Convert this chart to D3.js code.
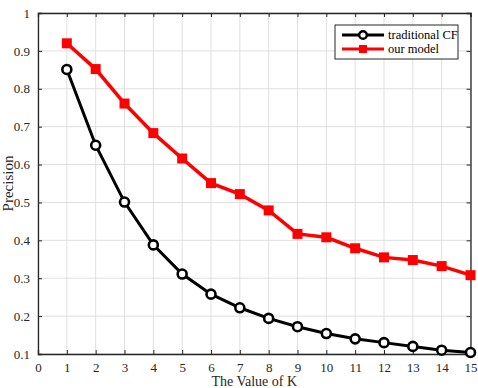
<!DOCTYPE html>
<html><head><meta charset="utf-8">
<script src="https://cdn.jsdelivr.net/npm/d3@7/dist/d3.min.js"></script>
<style>body{margin:0;background:#fff}svg{display:block}text{font-family:"Liberation Serif","Times New Roman",serif}</style>
</head><body><svg id="c" width="478" height="388"></svg>
<script>
const kValues = [1,2,3,4,5,6,7,8,9,10,11,12,13,14,15];
const traditionalCF = [0.851,0.651,0.501,0.388,0.311,0.258,0.222,0.194,0.172,0.154,0.140,0.130,0.120,0.110,0.104];
const ourModel = [0.920,0.852,0.761,0.683,0.616,0.551,0.522,0.479,0.417,0.408,0.379,0.355,0.348,0.332,0.308];
const xTicks = [0,1,2,3,4,5,6,7,8,9,10,11,12,13,14,15];
const yTicks = [0.1,0.2,0.3,0.4,0.5,0.6,0.7,0.8,0.9,1];
const seriesNames = ["traditional CF","our model"];

const svg = d3.select("#c");
const L=38,R=470.5,T=13,B=354;
const x = d3.scaleLinear().domain([0,15]).range([L,R]);
const y = d3.scaleLinear().domain([0.1,1]).range([B,T]);
const axisCol="#262626";
const serif="'Liberation Serif', 'Times New Roman', serif";

// grid
const g = svg.append("g");
g.selectAll(".gx").data(xTicks).join("line").attr("x1",d=>x(d)).attr("x2",d=>x(d)).attr("y1",T).attr("y2",B).attr("stroke","#dfdfdf").attr("stroke-width",1);
g.selectAll(".gy").data(yTicks).join("line").attr("x1",L).attr("x2",R).attr("y1",d=>y(d)).attr("y2",d=>y(d)).attr("stroke","#dfdfdf").attr("stroke-width",1);

// axes
const ax = d3.axisBottom(x).tickValues(xTicks).tickSize(-4).tickPadding(9).tickFormat(d3.format("d"));
const ay = d3.axisLeft(y).tickValues(yTicks).tickSize(-4).tickPadding(8).tickFormat(d=>d===1?"1":d3.format(".1f")(d));
const axT = d3.axisTop(x).tickValues(xTicks).tickSize(-4).tickFormat("");
const ayR = d3.axisRight(y).tickValues(yTicks).tickSize(-4).tickFormat("");
function style(sel){sel.attr("font-family",serif).attr("font-size",13);sel.select(".domain").attr("stroke",axisCol).attr("stroke-width",1.3);sel.selectAll(".tick line").attr("stroke",axisCol);sel.selectAll("text").attr("fill",axisCol).style("font-family",serif).style("font-size","13px");}
svg.append("g").attr("transform",`translate(0,${B})`).call(ax).call(style);
svg.append("g").attr("transform",`translate(${L},0)`).call(ay).call(style);
svg.append("g").attr("transform",`translate(0,${T})`).call(axT).call(style);
svg.append("g").attr("transform",`translate(${R},0)`).call(ayR).call(style);

const line = d3.line().x((d,i)=>x(kValues[i])).y(d=>y(d));
// black series
svg.append("path").datum(traditionalCF).attr("d",line).attr("fill","none").attr("stroke","#000").attr("stroke-width",3);
svg.selectAll(".c").data(traditionalCF).join("circle").attr("cx",(d,i)=>x(kValues[i])).attr("cy",d=>y(d)).attr("r",4.5).attr("fill","#fff").attr("stroke","#000").attr("stroke-width",2.6);
// red series
svg.append("path").datum(ourModel).attr("d",line).attr("fill","none").attr("stroke","#f00").attr("stroke-width",3.5);
svg.selectAll(".s").data(ourModel).join("rect").attr("x",(d,i)=>x(kValues[i])-5).attr("y",d=>y(d)-5).attr("width",10).attr("height",10).attr("fill","#f00");

// labels
svg.append("text").attr("x",(L+R)/2).attr("y",386).attr("text-anchor","middle").style("font-family",serif).style("font-size","14px").attr("fill",axisCol).text("The Value of K");
svg.append("text").attr("transform",`translate(13,${(T+B)/2}) rotate(-90)`).attr("text-anchor","middle").style("font-family",serif).style("font-size","15px").attr("fill",axisCol).text("Precision");

// legend
const lg = svg.append("g");
lg.append("rect").attr("x",335).attr("y",25).attr("width",123).attr("height",34).attr("fill","#fff").attr("stroke",axisCol).attr("stroke-width",1);
const ly=[35,49];
lg.append("line").attr("x1",342).attr("x2",384).attr("y1",ly[0]).attr("y2",ly[0]).attr("stroke","#000").attr("stroke-width",3);
lg.append("circle").attr("cx",363).attr("cy",ly[0]).attr("r",3.8).attr("fill","#fff").attr("stroke","#000").attr("stroke-width",2.4);
lg.append("line").attr("x1",342).attr("x2",384).attr("y1",ly[1]).attr("y2",ly[1]).attr("stroke","#f00").attr("stroke-width",3);
lg.append("rect").attr("x",359).attr("y",ly[1]-4).attr("width",8).attr("height",8).attr("fill","#f00");
lg.selectAll("text").data(seriesNames).join("text").attr("x",388).attr("y",(d,i)=>ly[i]+4).style("font-family",serif).style("font-size","12.5px").attr("fill","#000").text(d=>d);
</script></body></html>
